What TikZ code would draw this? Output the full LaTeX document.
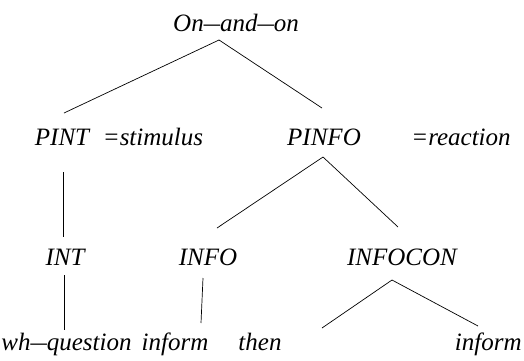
\documentclass[tikz,border=0pt]{standalone}
\usepackage{fontspec}
\setmainfont{Liberation Serif}
\newcommand{\ldash}{\scalebox{1.3}[1]{--}}
\begin{document}
\begin{tikzpicture}[x=1pt, y=-1pt, line width=0.7pt,
    lbl/.style={anchor=base, inner sep=0pt, font=\fontsize{25}{30}\selectfont\itshape}]
    \useasboundingbox (0,0) rectangle (524,360);

    % Cac nut cua cay
    \node[lbl] (root)    at (236,31)  {On\ldash and\ldash on};
    \node[lbl] (pint)    at (62,145)  {PINT};
    \node[lbl] (stim)    at (153,145) {=stimulus};
    \node[lbl] (pinfo)   at (324,145) {PINFO};
    \node[lbl] (react)   at (461,145) {=reaction};
    \node[lbl] (int)     at (65,265)  {INT};
    \node[lbl] (info)    at (208,265) {INFO};
    \node[lbl] (infocon) at (402,265) {INFOCON};
    \node[lbl, anchor=base west] (whq) at (1,350) {wh\ldash question};
    \node[lbl] (inf1)    at (175,350) {inform};
    \node[lbl] (then)    at (260,350) {then};
    \node[lbl, anchor=base east] (inf2) at (522,350) {inform};

    % Cac canh
    \draw ([shift={(-17,9)}]root.base) -- ([shift={(2,-32)}]pint.base);
    \draw ([shift={(-17,9)}]root.base) -- ([shift={(-2,-37)}]pinfo.base);
    \draw ([shift={(1,27)}]pint.base) -- ([shift={(-2,-28)}]int.base);
    \draw ([shift={(-1,12)}]pinfo.base) -- ([shift={(9,-37)}]info.base);
    \draw ([shift={(-1,12)}]pinfo.base) -- ([shift={(-4,-38)}]infocon.base);
    \draw ([shift={(-1,10)}]int.base) -- ([shift={(63,-20)}]whq.base west);
    \draw ([shift={(-5,13)}]info.base) -- ([shift={(26,-27)}]inf1.base);
    \draw ([shift={(-10,15)}]infocon.base) -- ([shift={(62,-22)}]then.base);
    \draw ([shift={(-10,15)}]infocon.base) -- ([shift={(-44,-24)}]inf2.base east);

\end{tikzpicture}
\end{document}
